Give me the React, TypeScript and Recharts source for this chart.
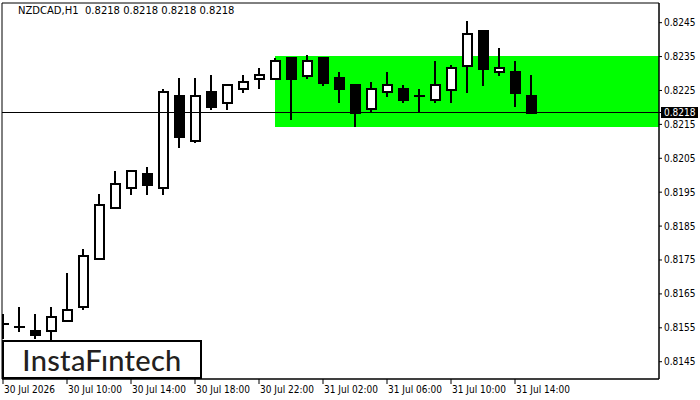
import React from "react";
import {
  ComposedChart,
  Bar,
  XAxis,
  YAxis,
  ReferenceArea,
  ReferenceLine,
} from "recharts";

// hourly candles, 30 Jul 06:00 .. 31 Jul 15:00
const opens = [
  0.81561, 0.81551, 0.8154, 0.8154, 0.81569, 0.8161, 0.81752, 0.81903, 0.81962,
  0.82004, 0.81962, 0.82234, 0.82102, 0.82246, 0.82214, 0.82254, 0.82285,
  0.82285, 0.82345, 0.82294, 0.82345, 0.82286, 0.82265, 0.82195, 0.82245,
  0.82254, 0.82234, 0.82223, 0.82252, 0.82323, 0.82426, 0.82304, 0.82304,
  0.82233,
];
const highs = [
  0.81591, 0.81611, 0.81591, 0.81611, 0.81712, 0.81782, 0.81945, 0.82013,
  0.82012, 0.82024, 0.82254, 0.82287, 0.82287, 0.82296, 0.82266, 0.82296,
  0.82316, 0.82345, 0.82345, 0.82355, 0.82345, 0.82304, 0.82265, 0.82274,
  0.82304, 0.82266, 0.82254, 0.82337, 0.82325, 0.82455, 0.82426, 0.82375,
  0.82337, 0.82296,
];
const lows = [
  0.81517, 0.81538, 0.81517, 0.81514, 0.81569, 0.81603, 0.81752, 0.81903,
  0.81942, 0.81942, 0.81942, 0.82081, 0.82094, 0.82192, 0.82192, 0.82244,
  0.82254, 0.82285, 0.82163, 0.82285, 0.82264, 0.82214, 0.82143, 0.82187,
  0.82232, 0.82214, 0.82183, 0.82214, 0.82214, 0.82244, 0.82264, 0.82294,
  0.82202, 0.82185,
];
const closes = [
  0.81561, 0.81551, 0.8153, 0.81581, 0.81602, 0.81761, 0.81911, 0.81973,
  0.82012, 0.81971, 0.82246, 0.82114, 0.82234, 0.82202, 0.82266, 0.82274,
  0.82295, 0.82337, 0.82285, 0.82337, 0.82273, 0.82254, 0.82183, 0.82254,
  0.82265, 0.82223, 0.82234, 0.82265, 0.82316, 0.82416, 0.82314, 0.82316,
  0.82244, 0.82185,
];

const xTicks = [0, 4, 8, 12, 16, 20, 24, 28, 32];
const xTickLabels = [
  "30 Jul 2026",
  "30 Jul 10:00",
  "30 Jul 14:00",
  "30 Jul 18:00",
  "30 Jul 22:00",
  "31 Jul 02:00",
  "31 Jul 06:00",
  "31 Jul 10:00",
  "31 Jul 14:00",
];
const yTicks = [
  0.8145, 0.8155, 0.8165, 0.8175, 0.8185, 0.8195, 0.8205, 0.8215, 0.8225,
  0.8235, 0.8245,
];

const lastPrice = 0.82185;
const zoneStart = 17;
const zoneTop = 0.82352;
const zoneBottom = 0.82142;

const xMin = -0.0625;
const xMax = 41;
const yMin = 0.81399;
const yMax = 0.82508;

const data = opens.map((o, i) => ({
  i,
  open: o,
  high: highs[i],
  low: lows[i],
  close: closes[i],
}));

const FONT = '"DejaVu Sans Condensed", "DejaVu Sans", sans-serif';

const Candle = (props: any) => {
  const { x, y, width, height, payload } = props;
  if (!payload) return null;
  const { open, close, high, low } = payload;
  const top = Math.min(y, y + height);
  const h = Math.abs(height);
  const py = (v: number) => (high === low ? top : top + ((high - v) / (high - low)) * h);
  const cx = Math.round(x + width / 2);
  const bt = Math.round(Math.min(py(open), py(close)));
  const bb = Math.round(Math.max(py(open), py(close)));
  const bull = close >= open;
  return (
    <g shapeRendering="crispEdges">
      <line x1={cx} x2={cx} y1={top} y2={top + h} stroke="#000" strokeWidth={2} />
      {bb - bt < 1 ? (
        <line x1={cx - 5} x2={cx + 6} y1={bt} y2={bt} stroke="#000" strokeWidth={2} />
      ) : (
        <rect
          x={cx - 4}
          y={bt}
          width={9}
          height={bb - bt}
          fill={bull ? "#fff" : "#000"}
          stroke="#000"
          strokeWidth={2}
        />
      )}
    </g>
  );
};

const XTick = (props: any) => {
  const { x, y, payload } = props;
  const label = xTickLabels[xTicks.indexOf(payload.value)];
  return (
    <text x={x + 1} y={y} dy="0.71em" textAnchor="start" fontSize={10} fontFamily={FONT} fill="#000">
      {label}
    </text>
  );
};

const YTick = (props: any) => {
  const { x, y, payload } = props;
  if (payload.value === lastPrice) {
    return (
      <g>
        <rect x={x - 3} y={y - 5.5} width={37} height={11} fill="#000" />
        <text x={x} y={y} dy="0.35em" textAnchor="start" fontSize={10} fontFamily={FONT} fill="#fff">
          {payload.value.toFixed(4)}
        </text>
      </g>
    );
  }
  return (
    <text x={x} y={y} dy="0.35em" textAnchor="start" fontSize={10} fontFamily={FONT} fill="#000">
      {payload.value.toFixed(4)}
    </text>
  );
};

export default function App() {
  return (
    <div style={{ position: "absolute", left: 0, top: 0, width: 700, height: 400, background: "#fff" }}>
      <ComposedChart
        width={700}
        height={400}
        data={data}
        margin={{ top: 3, right: 0, bottom: 0, left: 2 }}
      >
        <XAxis
          dataKey="i"
          type="number"
          domain={[xMin, xMax]}
          ticks={xTicks}
          interval={0}
          allowDataOverflow
          height={21}
          tickSize={5}
          tickMargin={2}
          stroke="#000"
          tick={<XTick />}
        />
        <YAxis
          orientation="right"
          type="number"
          domain={[yMin, yMax]}
          ticks={[...yTicks, lastPrice]}
          interval={0}
          allowDataOverflow
          width={41}
          tickSize={3}
          tickMargin={2}
          stroke="#000"
          tick={<YTick />}
        />
        <ReferenceArea
          x1={zoneStart}
          x2={xMax}
          y1={zoneBottom}
          y2={zoneTop}
          fill="#00ff00"
          fillOpacity={1}
          stroke="none"
        />
        <ReferenceLine y={lastPrice} stroke="#000" strokeWidth={1} />
        <Bar
          dataKey={(d: any) => [d.low, d.high]}
          barSize={10}
          shape={<Candle />}
          isAnimationActive={false}
        />
        <ReferenceArea
          x1={xMin}
          x2={xMax}
          y1={yMin}
          y2={yMax}
          fill="none"
          stroke="#000"
          strokeWidth={1}
        />
      </ComposedChart>
      <div
        style={{
          position: "absolute",
          left: 18,
          top: 5,
          fontSize: 10,
          lineHeight: "12px",
          fontFamily: '"DejaVu Sans", sans-serif',
          color: "#000",
          whiteSpace: "pre",
        }}
      >
        {"NZDCAD,H1  0.8218 0.8218 0.8218 0.8218"}
      </div>
      <div
        style={{
          position: "absolute",
          left: 2,
          top: 340,
          width: 200,
          height: 39,
          boxSizing: "border-box",
          border: "2px solid #000",
          background: "#fff",
          textAlign: "center",
          fontFamily: "Lato, sans-serif",
          fontSize: 29,
          fontWeight: 500,
          letterSpacing: 0.3,
          lineHeight: "35px",
          color: "#231f20",
        }}
      >
        InstaFıntech
      </div>
    </div>
  );
}
